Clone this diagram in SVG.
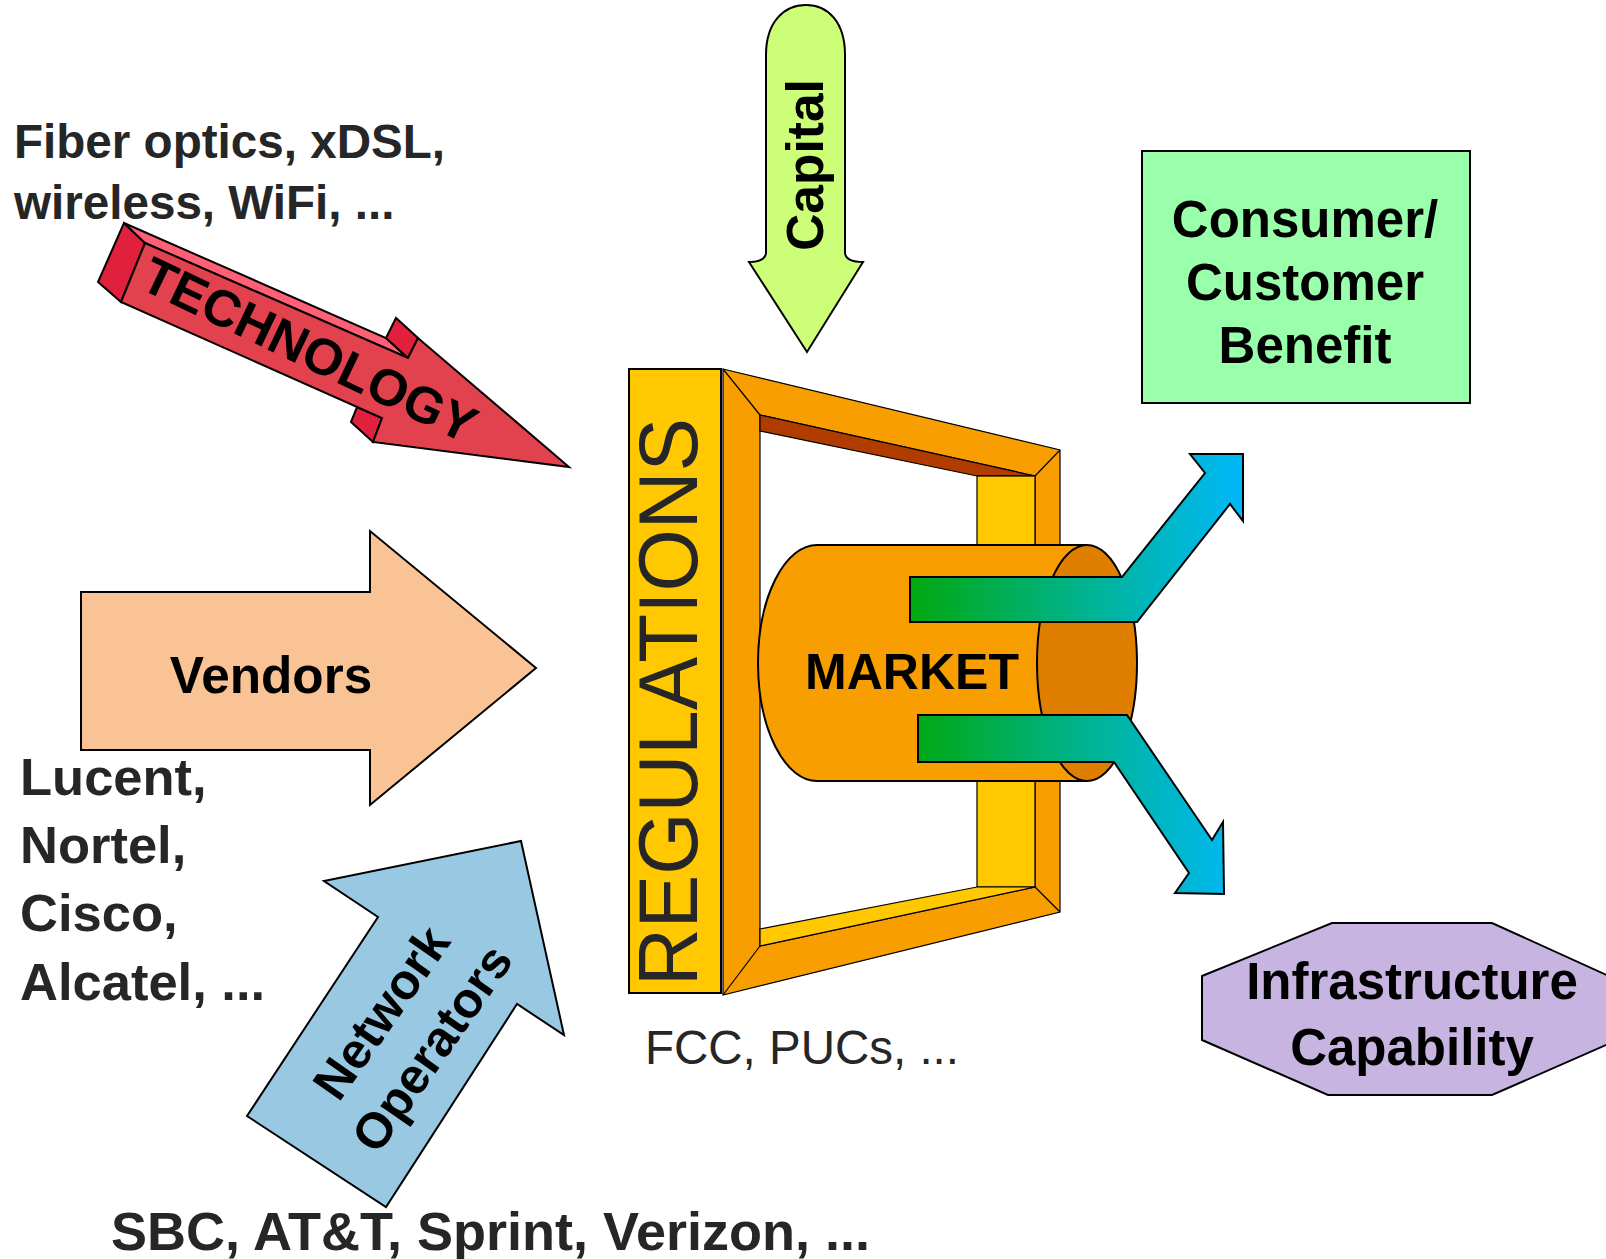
<svg xmlns="http://www.w3.org/2000/svg" width="1606" height="1259" viewBox="0 0 1606 1259">
<defs>
<linearGradient id="flow" gradientUnits="userSpaceOnUse" x1="910" y1="0" x2="1243" y2="0">
<stop offset="0" stop-color="#00A810"/>
<stop offset="0.55" stop-color="#00B496"/>
<stop offset="1" stop-color="#00B8FA"/>
</linearGradient>
</defs>
<style>
text{font-family:"Liberation Sans",Arial,Helvetica,sans-serif}
.lst{font-weight:bold;fill:#262626}
.lbl{font-weight:bold;fill:#000}
.ln{stroke:#000;stroke-width:2;stroke-linejoin:miter}
.thin{stroke:#000;stroke-width:1.2}
</style>
<rect width="1606" height="1259" fill="#fff"/>

<g id="tech-list">
<text class="lst" x="14" y="158" font-size="47.6">Fiber optics, xDSL,</text>
<text class="lst" x="14" y="219" font-size="47.6">wireless, WiFi, ...</text>
</g>

<g id="technology">
<polygon class="ln" fill="#E0203C" points="145,243 124,223 98,282 121,302"/>
<polygon class="ln" fill="#FF6075" points="124,223 386,338 408,358 145,243"/>
<polygon class="ln" fill="#E0203C" points="386,338 396,318 418,338 408,358"/>
<polygon class="ln" fill="#E0203C" points="373,442 351,422 357,407 382,418"/>
<polygon class="ln" fill="#E2424E" points="145,243 408,358 418,338 569,467 373,442 382,418 121,302"/>
<text class="lbl" font-size="51.5" text-anchor="middle" transform="translate(302,366) rotate(25.5)">TECHNOLOGY</text>
</g>

<g id="capital">
<path class="ln" fill="#CCFF77" d="M766,253 L766,55 C766,22 784,5 806,5 C828,5 845,22 845,55 L845,253 Q846,262 863,262 L807,352 L749,262 Q765,262 766,253 Z"/>
<text class="lbl" font-size="51.5" text-anchor="middle" transform="translate(823,165) rotate(-90)">Capital</text>
</g>

<g id="vendors">
<polygon class="ln" fill="#F9C396" points="81,592 370,592 370,531 536,668 370,805 370,750 81,750"/>
<text class="lbl" x="271" y="693" font-size="51.3" text-anchor="middle">Vendors</text>
</g>

<g id="vendor-list">
<text class="lst" x="20" y="795" font-size="52.5">Lucent,</text>
<text class="lst" x="20" y="863" font-size="52.5">Nortel,</text>
<text class="lst" x="20" y="931" font-size="52.5">Cisco,</text>
<text class="lst" x="20" y="1000" font-size="52.5">Alcatel, ...</text>
</g>

<g id="network-operators">
<polygon class="ln" fill="#99C9E2" points="521,841 564,1035 517,1004 386,1207 247,1116 378,917 324,881"/>
<text class="lbl" font-size="50" text-anchor="middle" transform="translate(406,1030) rotate(-55)"><tspan x="0" y="-13">Network</tspan><tspan x="0" y="49">Operators</tspan></text>
</g>

<g id="operator-list">
<text class="lst" x="111" y="1250" font-size="54">SBC, AT&amp;T, Sprint, Verizon, ...</text>
</g>

<g id="regulations">
<rect class="ln" x="629" y="369" width="92" height="624" fill="#FFC800"/>
<text font-size="84" fill="#262626" text-anchor="middle" textLength="568" lengthAdjust="spacingAndGlyphs" transform="translate(697,702) rotate(-90)">REGULATIONS</text>
<text x="802" y="1064" font-size="47.5" fill="#262626" text-anchor="middle">FCC, PUCs, ...</text>
</g>

<g id="frame">
<polygon class="thin" fill="#F99E00" points="723,369 1060,450 1060,912 723,995"/>
<polygon class="thin" fill="#fff" points="760,415 1035,476 1035,887 760,946"/>
<polygon class="thin" fill="#B03C00" points="760,415 1035,476 977,476 760,431"/>
<rect class="thin" x="977" y="476" width="58" height="411" fill="#FFC800"/>
<polygon class="thin" fill="#FFC800" points="760,929 977,887 1035,887 760,946"/>
<line class="thin" x1="723" y1="369" x2="760" y2="415"/>
<line class="thin" x1="1060" y1="450" x2="1035" y2="476"/>
<line class="thin" x1="1060" y1="912" x2="1035" y2="887"/>
<line class="thin" x1="723" y1="995" x2="760" y2="946"/>
</g>

<g id="market">
<path class="ln" fill="#F99E00" d="M817,545 L1087,545 L1087,781 L817,781 A59,118 0 0 1 817,545 Z"/>
<ellipse class="ln" cx="1087" cy="663" rx="50" ry="118" fill="#E07E00"/>
<text class="lbl" x="912" y="689" font-size="50" text-anchor="middle">MARKET</text>
</g>

<g id="connectors">
<path class="ln" fill="url(#flow)" d="M910,577 L1122,577 L1205,473 L1190,454 L1243,454 L1243,521 L1230,504 L1137,622 L910,622 Z"/>
<path class="ln" fill="url(#flow)" d="M918,715 L1127,715 L1212,840 L1223,822 L1224,894 L1175,893 L1189,873 L1114,762 L918,762 Z"/>
</g>

<g id="consumer-benefit">
<rect class="ln" x="1142" y="151" width="328" height="252" fill="#99FFAA"/>
<text class="lbl" font-size="51" text-anchor="middle"><tspan x="1305" y="237">Consumer/</tspan><tspan x="1305" y="300">Customer</tspan><tspan x="1305" y="363">Benefit</tspan></text>
</g>

<g id="infrastructure-capability">
<polygon class="ln" fill="#C8B4E0" points="1332,923 1492,923 1622,982 1622,1038 1492,1095 1328,1095 1202,1040 1202,976"/>
<text class="lbl" font-size="51" text-anchor="middle"><tspan x="1412" y="999">Infrastructure</tspan><tspan x="1412" y="1065">Capability</tspan></text>
</g>
</svg>
